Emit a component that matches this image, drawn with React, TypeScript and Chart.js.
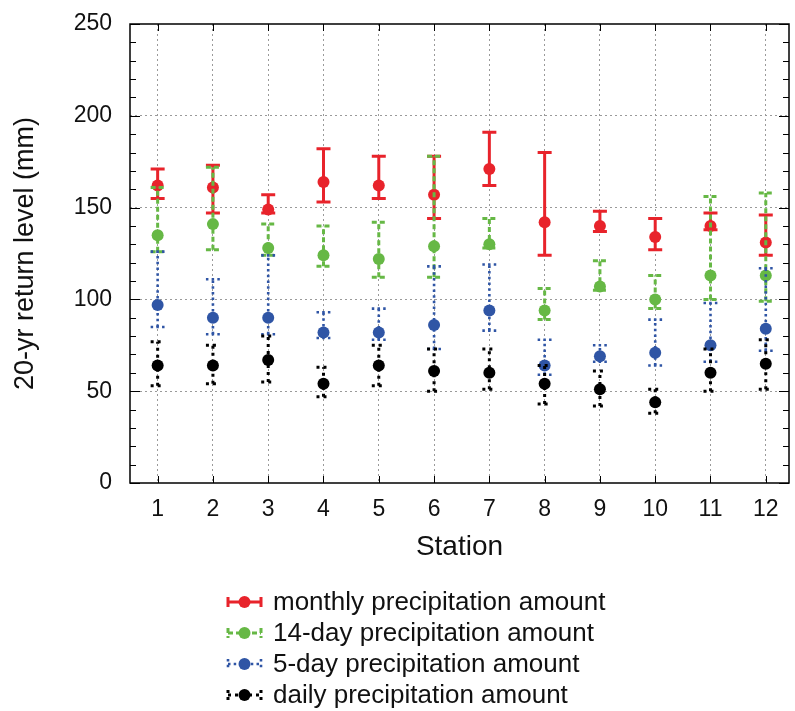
import React, { useEffect, useRef } from "react";
import { Chart, registerables } from "chart.js";

Chart.register(...registerables);

const stations = [1, 2, 3, 4, 5, 6, 7, 8, 9, 10, 11, 12];
const yTicks = [0, 50, 100, 150, 200, 250];

const seriesNames = [
  "monthly precipitation amount",
  "14-day precipitation amount",
  "5-day precipitation amount",
  "daily precipitation amount",
];

const monthlyValue = [162, 161, 149, 164, 162, 157, 171, 142, 140, 134, 140, 131];
const monthlyLow = [155, 147, 147, 153, 155, 144, 162, 124, 137, 127, 138, 124];
const monthlyHigh = [171, 173, 157, 182, 178, 178, 191, 180, 148, 144, 147, 146];

const day14Value = [135, 141, 128, 124, 122, 129, 130, 94, 107, 100, 113, 113];
const day14Low = [126, 127, 124, 118, 112, 112, 128, 89, 105, 95, 100, 99];
const day14High = [161, 172, 141, 140, 142, 178, 144, 106, 121, 113, 156, 158];

const day5Value = [97, 90, 90, 82, 82, 86, 94, 64, 69, 71, 75, 84];
const day5Low = [85, 81, 81, 79, 78, 73, 83, 59, 66, 64, 66, 72];
const day5High = [126, 111, 124, 93, 95, 118, 119, 78, 75, 89, 98, 117];

const dailyValue = [64, 64, 67, 54, 64, 61, 60, 54, 51, 44, 60, 65];
const dailyLow = [53, 54, 55, 47, 53, 50, 51, 43, 42, 38, 50, 51];
const dailyHigh = [77, 75, 80, 63, 75, 73, 73, 64, 61, 51, 73, 78];

const colors = ["#e8232b", "#66b845", "#2f55a5", "#000000"];
const dashes: number[][] = [[], [5, 3], [2.5, 3.2], [3, 4]];
const widths = [3, 3, 2.6, 3];

const FONT = "'Liberation Sans', Arial, sans-serif";

const errorBarPlugin = {
  id: "errorBars",
  beforeDatasetDraw(chart: any, args: any) {
    const ds = chart.data.datasets[args.index];
    const xs = chart.scales.x;
    const ys = chart.scales.y;
    const ctx = chart.ctx;
    const cap = 7;
    ctx.save();
    ctx.strokeStyle = ds.errColor;
    ctx.lineWidth = ds.errWidth;
    ctx.setLineDash(ds.errDash);
    ctx.lineCap = "butt";
    ds.data.forEach((p: any, i: number) => {
      const px = xs.getPixelForValue(p.x);
      const lo = ys.getPixelForValue(ds.low[i]);
      const hi = ys.getPixelForValue(ds.high[i]);
      ctx.beginPath();
      ctx.moveTo(px, lo);
      ctx.lineTo(px, hi);
      ctx.stroke();
      ctx.beginPath();
      ctx.moveTo(px - cap, lo);
      ctx.lineTo(px + cap, lo);
      ctx.moveTo(px - cap, hi);
      ctx.lineTo(px + cap, hi);
      ctx.stroke();
    });
    ctx.restore();
  },
};

const framePlugin = {
  id: "frame",
  afterDraw(chart: any) {
    const { ctx, chartArea: a } = chart;
    const ys = chart.scales.y;
    const xs = chart.scales.x;
    ctx.save();
    ctx.setLineDash([]);
    ctx.strokeStyle = "#000";
    ctx.lineWidth = 1.5;
    ctx.strokeRect(a.left, a.top, a.right - a.left, a.bottom - a.top);
    ctx.lineWidth = 1;
    ctx.beginPath();
    for (let v = 0; v <= 250; v += 10) {
      const py = Math.round(ys.getPixelForValue(v)) + 0.5;
      const len = v % 50 === 0 ? 10 : 6;
      ctx.moveTo(a.left, py);
      ctx.lineTo(a.left + len, py);
      ctx.moveTo(a.right, py);
      ctx.lineTo(a.right - len, py);
    }
    stations.forEach((s) => {
      const px = Math.round(xs.getPixelForValue(s)) + 0.5;
      ctx.moveTo(px, a.bottom);
      ctx.lineTo(px, a.bottom - 7);
      ctx.moveTo(px, a.top);
      ctx.lineTo(px, a.top + 7);
    });
    ctx.stroke();
    ctx.restore();
  },
};

const legendPlugin = {
  id: "customLegend",
  afterDraw(chart: any) {
    const ctx = chart.ctx;
    const x0 = 228;
    const x1 = 261;
    const xt = 273;
    const y0 = 602;
    const step = 31;
    ctx.save();
    chart.data.datasets.forEach((ds: any) => {
      const k = seriesNames.indexOf(ds.label);
      const y = y0 + k * step;
      ctx.strokeStyle = ds.errColor;
      ctx.lineWidth = ds.errWidth;
      ctx.setLineDash(ds.errDash);
      ctx.beginPath();
      ctx.moveTo(x0, y);
      ctx.lineTo(x1, y);
      ctx.moveTo(x0, y - 5);
      ctx.lineTo(x0, y + 5);
      ctx.moveTo(x1, y - 5);
      ctx.lineTo(x1, y + 5);
      ctx.stroke();
      ctx.setLineDash([]);
      ctx.fillStyle = ds.errColor;
      ctx.beginPath();
      ctx.arc((x0 + x1) / 2, y, 6, 0, Math.PI * 2);
      ctx.fill();
      ctx.fillStyle = "#111";
      ctx.font = `26px ${FONT}`;
      ctx.textBaseline = "middle";
      ctx.textAlign = "left";
      ctx.fillText(ds.label, xt, y + 1);
    });
    ctx.restore();
  },
};

function makeDataset(k: number, values: number[], low: number[], high: number[], order: number) {
  return {
    label: seriesNames[k],
    data: stations.map((s, i) => ({ x: s, y: values[i] })),
    low,
    high,
    errColor: colors[k],
    errDash: dashes[k],
    errWidth: widths[k],
    showLine: false,
    pointRadius: 6,
    pointBorderWidth: 0,
    pointBackgroundColor: colors[k],
    backgroundColor: colors[k],
    borderColor: colors[k],
    order,
  };
}

export default function App() {
  const ref = useRef<HTMLCanvasElement>(null);

  useEffect(() => {
    document.body.style.margin = "0";
    const chart = new Chart(ref.current as HTMLCanvasElement, {
      type: "scatter",
      data: {
        datasets: [
          makeDataset(0, monthlyValue, monthlyLow, monthlyHigh, 4),
          makeDataset(1, day14Value, day14Low, day14High, 3),
          makeDataset(2, day5Value, day5Low, day5High, 2),
          makeDataset(3, dailyValue, dailyLow, dailyHigh, 1),
        ] as any,
      },
      options: {
        animation: false,
        responsive: false,
        events: [],
        layout: { padding: { left: 0, top: 24, right: 5, bottom: 130 } },
        plugins: {
          legend: { display: false },
          tooltip: { enabled: false },
        },
        scales: {
          x: {
            type: "linear",
            min: 0.5,
            max: 12.42,
            afterBuildTicks: (s: any) => {
              s.ticks = stations.map((v) => ({ value: v }));
            },
            afterFit: (s: any) => {
              s.height = 98;
              s.paddingLeft = 0;
              s.paddingRight = 0;
            },
            grid: { color: "#9a9a9a", lineWidth: 1, drawTicks: false },
            border: { display: false, dash: [2, 3] },
            ticks: {
              color: "#111",
              font: { family: FONT, size: 23 },
              padding: 13,
              callback: (v: any) => String(v),
            },
            title: {
              display: true,
              text: "Station",
              color: "#111",
              font: { family: FONT, size: 28 },
              padding: { top: 0, bottom: 17 },
            },
          },
          y: {
            min: 0,
            max: 250,
            afterBuildTicks: (s: any) => {
              s.ticks = yTicks.map((v) => ({ value: v }));
            },
            afterFit: (s: any) => {
              s.width = 130;
              s.paddingTop = 0;
              s.paddingBottom = 0;
            },
            grid: {
              color: (c: any) =>
                c.tick && (c.tick.value === 0 || c.tick.value === 250) ? "rgba(0,0,0,0)" : "#9a9a9a",
              lineWidth: 1,
              drawTicks: false,
            },
            border: { display: false, dash: [2, 3] },
            ticks: {
              color: "#111",
              font: { family: FONT, size: 23 },
              padding: 18,
              callback: (v: any) => String(v),
            },
            title: {
              display: true,
              text: "20-yr return level (mm)",
              color: "#111",
              font: { family: FONT, size: 27 },
              padding: { top: 9, bottom: 0 },
            },
          },
        },
      },
      plugins: [errorBarPlugin, framePlugin, legendPlugin],
    });
    return () => chart.destroy();
  }, []);

  return (
    <div style={{ width: 795, height: 711 }}>
      <canvas ref={ref} width={795} height={711} style={{ display: "block", width: 795, height: 711 }} />
    </div>
  );
}
